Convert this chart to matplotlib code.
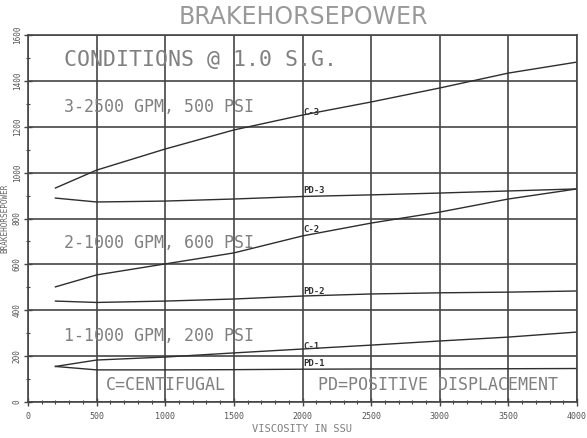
import matplotlib
matplotlib.use("Agg")
import matplotlib.pyplot as plt
from matplotlib.ticker import MultipleLocator

# ---- data ----
visc = [200, 500, 1000, 1500, 2000, 2500, 3000, 3500, 4000]
c3 = [933, 1011, 1103, 1186, 1251, 1308, 1369, 1434, 1482]
pd3 = [889, 872, 876, 885, 896, 903, 911, 920, 929]
c2 = [502, 554, 602, 650, 724, 780, 828, 885, 929]
pd2 = [440, 434, 440, 449, 462, 471, 476, 479, 484]
c1 = [155, 183, 196, 214, 231, 248, 266, 283, 305]
pd1 = [155, 140, 140, 141, 143, 144, 144, 145, 146]

series = [("C-3", c3), ("PD-3", pd3), ("C-2", c2), ("PD-2", pd2), ("C-1", c1), ("PD-1", pd1)]
label_y = {"C-3": 1264, "PD-3": 920, "C-2": 750, "PD-2": 480, "C-1": 240, "PD-1": 170}
label_x = 2004

x_ticks = [0, 500, 1000, 1500, 2000, 2500, 3000, 3500, 4000]
y_ticks = [0, 200, 400, 600, 800, 1000, 1200, 1400, 1600]

TXT = "#808080"
GRID = "#454545"
LINE = "#2e2e2e"
MONO = "DejaVu Sans Mono"

fig = plt.figure(figsize=(5.87, 4.38), dpi=100)
ax = fig.add_axes([28/587, 36/438, (577-28)/587, (402-35)/438])

for name, vals in series:
    ax.plot(visc, vals, color=LINE, lw=1.0)
    ax.text(label_x, label_y[name], name, fontsize=6.5, family=MONO,
            color="#333333", ha="left", va="center", fontweight="bold")

ax.set_xlim(0, 4000)
ax.set_ylim(0, 1600)
ax.set_xticks(x_ticks)
ax.set_yticks(y_ticks)
ax.xaxis.set_minor_locator(MultipleLocator(100))
ax.yaxis.set_minor_locator(MultipleLocator(100))
ax.set_xticklabels([str(v) for v in x_ticks], fontsize=6, family=MONO, color="#555555")
ax.set_yticklabels([str(v) for v in y_ticks], fontsize=5.5, family=MONO, color="#555555",
                   rotation=90, va="center")
ax.tick_params(which="major", direction="inout", length=6, width=1.0, color=GRID)
ax.tick_params(axis="x", which="major", pad=4)
ax.tick_params(axis="y", which="major", pad=1.5)
ax.tick_params(which="minor", direction="inout", length=3, width=0.8, color=GRID)
ax.grid(True, which="major", color=GRID, lw=1.2)
for sp in ax.spines.values():
    sp.set_color(GRID)
    sp.set_linewidth(1.2)

ax.set_xlabel("VISCOSITY IN SSU", fontsize=7.5, family=MONO, color=TXT, labelpad=2)
ax.set_ylabel("BRAKEHORSEPOWER", fontsize=5.5, family=MONO, color="#666666")
ax.yaxis.set_label_coords(-0.034, 0.5)

fig.text(303/587, 1 - 17/438, "BRAKEHORSEPOWER", fontsize=17, color="#999999",
         ha="center", va="center")

ax.text(262, 1491, "CONDITIONS @ 1.0 S.G.", fontsize=15.5, family=MONO, color=TXT,
        ha="left", va="center")
ax.text(262, 1286, "3-2500 GPM, 500 PSI", fontsize=12, family=MONO, color=TXT,
        ha="left", va="center")
ax.text(262, 693, "2-1000 GPM, 600 PSI", fontsize=12, family=MONO, color=TXT,
        ha="left", va="center")
ax.text(262, 288, "1-1000 GPM, 200 PSI", fontsize=12, family=MONO, color=TXT,
        ha="left", va="center")
ax.text(568, 74, "C=CENTIFUGAL", fontsize=12, family=MONO, color=TXT,
        ha="left", va="center")
ax.text(2113, 74, "PD=POSITIVE DISPLACEMENT", fontsize=12, family=MONO, color=TXT,
        ha="left", va="center")

fig.savefig("out.png", dpi=100)
